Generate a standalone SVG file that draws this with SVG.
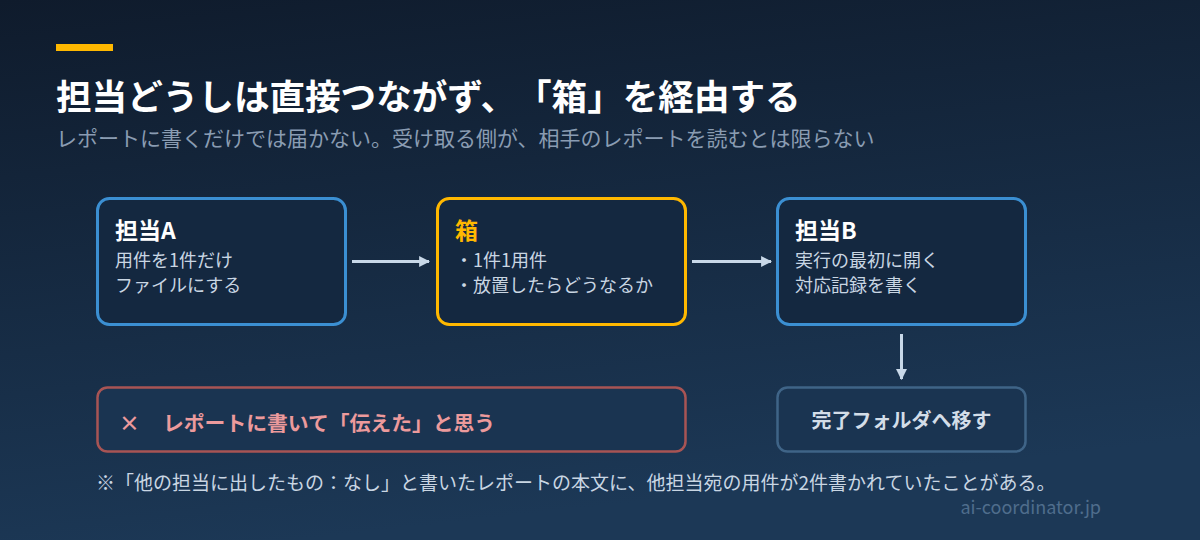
<svg xmlns="http://www.w3.org/2000/svg" width="1200" height="540" viewBox="0 0 1200 540">
  <defs>
    <linearGradient id="bg" x1="0" y1="0" x2="0.25" y2="1">
      <stop offset="0" stop-color="#0f1b2c"/>
      <stop offset="1" stop-color="#1c3856"/>
    </linearGradient>
    <marker id="ah" viewBox="0 0 10 10" refX="9" refY="5" markerWidth="11" markerHeight="11" markerUnits="userSpaceOnUse" orient="auto">
      <path d="M0,0 L10,5 L0,10 Z" fill="#c8d8e8"/>
    </marker>
    <style>
      text { font-family: "Noto Sans CJK JP", "Noto Sans", sans-serif; text-spacing-trim: space-all; }
      .box { fill: #142840; stroke-width: 3; }
      .blue { stroke: #3b8fd2; }
      .gold { stroke: #ffb800; }
      .head { font-size: 23px; font-weight: 700; fill: #ffffff; }
      .body { font-size: 18px; fill: #c9d6e3; }
      .conn { stroke: #c8d8e8; stroke-width: 3; fill: none; }
      .warn { font-size: 20.8px; font-weight: 700; fill: #ec9a9c; }
    </style>
  </defs>
  <rect width="1200" height="540" fill="url(#bg)"/>
  <rect x="56" y="44" width="57" height="7" fill="#ffb800"/>
  <text x="56" y="110" font-size="35.6" font-weight="700" fill="#ffffff">担当どうしは直接つながず、「箱」を経由する</text>
  <text x="56" y="146" font-size="21" fill="#8a9cb2">レポートに書くだけでは届かない。受け取る側が、相手のレポートを読むとは限らない</text>

  <g id="nodeA">
    <rect class="box blue" x="97.5" y="198.5" width="248" height="126" rx="12"/>
    <text class="head" x="115" y="239">担当A</text>
    <text class="body" x="115" y="267">用件を1件だけ</text>
    <text class="body" x="115" y="292">ファイルにする</text>
  </g>
  <g id="nodeBox">
    <rect class="box gold" x="437.5" y="198.5" width="248" height="126" rx="12"/>
    <text class="head" x="455" y="239" style="fill:#ffb800">箱</text>
    <text class="body" x="455" y="267">・1件1用件</text>
    <text class="body" x="455" y="292">・放置したらどうなるか</text>
  </g>
  <g id="nodeB">
    <rect class="box blue" x="777.5" y="198.5" width="248" height="126" rx="12"/>
    <text class="head" x="795" y="239">担当B</text>
    <text class="body" x="795" y="267">実行の最初に開く</text>
    <text class="body" x="795" y="292">対応記録を書く</text>
  </g>
  <g id="nodeDone">
    <rect x="777.5" y="387.5" width="248" height="64" rx="10" fill="#1a3451" stroke="#3f6487" stroke-width="2.5"/>
    <text x="901.5" y="428" font-size="20" font-weight="700" fill="#d3dde8" text-anchor="middle">完了フォルダへ移す</text>
  </g>
  <g id="nodeWrong">
    <rect x="97.5" y="387.5" width="588" height="64" rx="10" fill="#1a3451" stroke="#a85454" stroke-width="2.5"/>
    <text class="warn" x="119" y="431">×</text>
    <text class="warn" x="163" y="431">レポートに書いて「伝えた」と思う</text>
  </g>
  <g id="connectors">
    <line class="conn" x1="352" y1="261.5" x2="429" y2="261.5" marker-end="url(#ah)"/>
    <line class="conn" x1="692" y1="261.5" x2="771" y2="261.5" marker-end="url(#ah)"/>
    <line class="conn" x1="901.5" y1="334" x2="901.5" y2="379" marker-end="url(#ah)"/>
  </g>
  <text x="96" y="490" font-size="19" fill="#c9d6e3">※「他の担当に出したもの：なし」と書いたレポートの本文に、他担当宛の用件が2件書かれていたことがある。</text>
  <text x="1101" y="514" font-size="18" fill="#4f6d8c" text-anchor="end">ai-coordinator.jp</text>
</svg>
